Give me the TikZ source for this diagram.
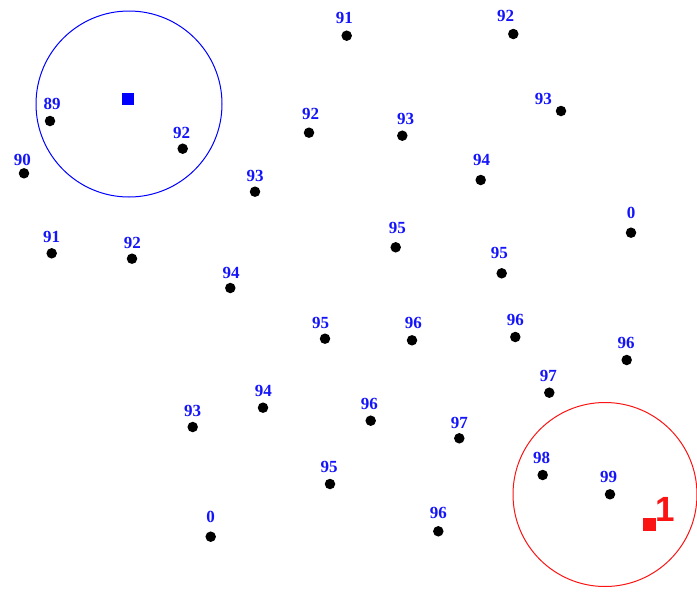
\documentclass[tikz,border=0pt]{standalone}
\usepackage{fontspec}
\newfontfamily\lblfont{Liberation Serif}
\newfontfamily\bigfont{Liberation Sans}
\definecolor{lblblue}{RGB}{20,20,250}
\definecolor{mred}{RGB}{250,20,20}
\begin{document}
\begin{tikzpicture}[x=1pt,y=-1pt,
  pt/.style={circle,fill=black,inner sep=0pt,minimum size=10.5pt},
  lbl/.style={text=lblblue,inner sep=0pt,font=\lblfont\bfseries\fontsize{17}{17}\selectfont},
  ring/.style={circle,draw,line width=1pt,inner sep=0pt,minimum size=186pt}]
\useasboundingbox[fill=white] (0,0) rectangle (697,592);
% search circles
\node[ring,draw=blue] (bc) at (129,104) {};
\node[fill=blue,inner sep=0pt,minimum size=12pt] (bq) at (128,99) {};
\node[ring,draw=mred,minimum size=184pt] (rc) at (605,494.5) {};
\node[fill=mred,inner sep=0pt,minimum size=13pt] (rq) at (649,524) {};
\node[text=mred,inner sep=0pt,font=\bigfont\bfseries\fontsize{35}{35}\selectfont] (rl) at (665.5,509.5) {1};
% points: dot x, dot y, label x, label y, text
\foreach \dx/\dy/\lx/\ly/\t [count=\i] in {
  346.7/35.7/344.3/18.3/91,
  513.3/34/505.7/16/92,
  50/121/52/104/89,
  182.7/148.7/181.7/132.7/92,
  24/173.3/22.3/160/90,
  309/132.7/310.7/114.3/92,
  402.3/135.7/405.7/119/93,
  561/111/543.3/99.3/93,
  480.7/180/481.7/160/94,
  51.7/253.3/51.7/237.3/91,
  132/258.7/132.3/243.3/92,
  230.3/288/231/272.7/94,
  255/191.7/255/176/93,
  395.7/247.3/397.3/228.3/95,
  631/232.7/631/212.7/0,
  501.7/273.3/499.3/253.3/95,
  515.3/337/515.3/320/96,
  626.7/360/626/343.3/96,
  549.3/392.7/548.3/376/97,
  325/338.7/320.7/322.7/95,
  412/340.3/413.3/323.3/96,
  263/407.7/263.3/390.7/94,
  192.7/427/192.7/410.7/93,
  370.7/420.7/369.3/404/96,
  459.3/438.3/459.3/423.3/97,
  330/484/329/467.3/95,
  210.7/536.7/210.7/516.7/0,
  438.3/531.3/438.3/513.3/96,
  542.7/475/541.7/457.7/98,
  610/494.3/608.7/477.3/99}{
  \node[pt] (p\i) at (\dx,\dy) {};
  \node[lbl] (l\i) at (\lx,\ly) {\t};
}
\end{tikzpicture}
\end{document}
